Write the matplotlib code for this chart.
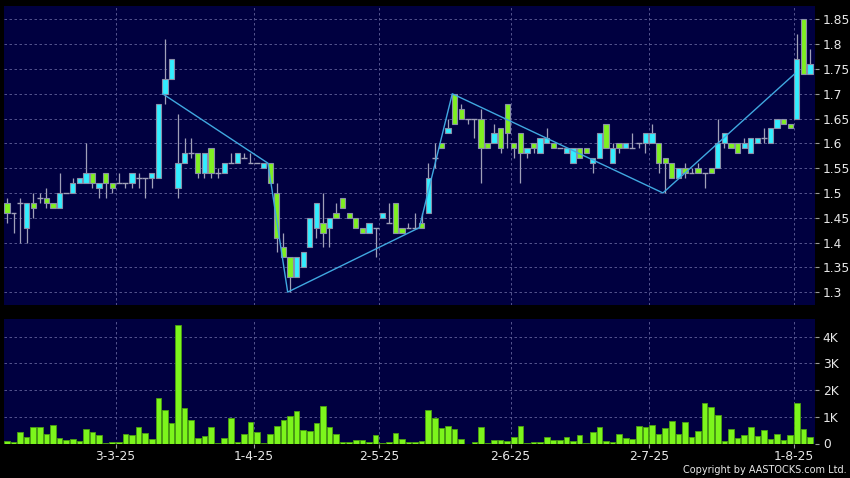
import matplotlib
matplotlib.use("Agg")
import matplotlib.pyplot as plt
import numpy as np

# OHLC, one candle per trading day (06-02-25 .. 05-08-25)
opens = [1.48, 1.46, 1.48, 1.43, 1.48, 1.49, 1.49, 1.48, 1.47, 1.50,
         1.50, 1.52, 1.52, 1.54, 1.51, 1.54, 1.52, 1.52, 1.52, 1.52,
         1.53, 1.53, 1.53, 1.53, 1.70, 1.73, 1.51, 1.56, 1.58, 1.58,
         1.54, 1.59, 1.54, 1.54, 1.56, 1.56, 1.57, 1.56, 1.56, 1.55,
         1.56, 1.50, 1.39, 1.37, 1.33, 1.35, 1.39, 1.43, 1.44, 1.43,
         1.46, 1.49, 1.46, 1.45, 1.43, 1.42, 1.43, 1.45, 1.44, 1.48,
         1.43, 1.43, 1.43, 1.44, 1.46, 1.57, 1.60, 1.62, 1.70, 1.67,
         1.65, 1.65, 1.65, 1.60, 1.60, 1.63, 1.68, 1.60, 1.62, 1.58,
         1.60, 1.58, 1.60, 1.60, 1.59, 1.58, 1.56, 1.59, 1.59, 1.56,
         1.57, 1.64, 1.56, 1.60, 1.59, 1.59, 1.60, 1.60, 1.60, 1.60,
         1.57, 1.56, 1.53, 1.55, 1.54, 1.55, 1.54, 1.55, 1.55, 1.60,
         1.60, 1.60, 1.59, 1.58, 1.60, 1.61, 1.60, 1.63, 1.65, 1.64,
         1.65, 1.85, 1.74]
closes = [1.46, 1.46, 1.48, 1.48, 1.47, 1.49, 1.48, 1.47, 1.50, 1.50,
          1.52, 1.53, 1.54, 1.52, 1.52, 1.52, 1.51, 1.52, 1.52, 1.54,
          1.53, 1.53, 1.54, 1.68, 1.73, 1.77, 1.56, 1.58, 1.58, 1.54,
          1.58, 1.54, 1.54, 1.56, 1.56, 1.58, 1.57, 1.56, 1.56, 1.56,
          1.52, 1.41, 1.37, 1.33, 1.37, 1.38, 1.45, 1.48, 1.42, 1.45,
          1.45, 1.47, 1.45, 1.43, 1.42, 1.44, 1.43, 1.46, 1.44, 1.42,
          1.42, 1.43, 1.43, 1.43, 1.53, 1.57, 1.59, 1.63, 1.64, 1.65,
          1.65, 1.65, 1.59, 1.59, 1.62, 1.59, 1.62, 1.59, 1.58, 1.59,
          1.59, 1.61, 1.61, 1.59, 1.59, 1.59, 1.59, 1.57, 1.58, 1.57,
          1.62, 1.59, 1.59, 1.59, 1.60, 1.59, 1.60, 1.62, 1.62, 1.56,
          1.56, 1.53, 1.55, 1.54, 1.54, 1.54, 1.54, 1.54, 1.60, 1.62,
          1.59, 1.58, 1.60, 1.61, 1.61, 1.61, 1.63, 1.65, 1.64, 1.63,
          1.77, 1.74, 1.76]
highs = [1.49, 1.46, 1.49, 1.48, 1.50, 1.50, 1.51, 1.48, 1.54, 1.50,
         1.53, 1.53, 1.60, 1.54, 1.52, 1.54, 1.52, 1.54, 1.52, 1.54,
         1.54, 1.53, 1.54, 1.68, 1.81, 1.77, 1.66, 1.61, 1.61, 1.58,
         1.58, 1.59, 1.55, 1.56, 1.58, 1.58, 1.58, 1.58, 1.56, 1.56,
         1.56, 1.52, 1.42, 1.37, 1.37, 1.38, 1.45, 1.48, 1.50, 1.45,
         1.48, 1.49, 1.46, 1.45, 1.43, 1.44, 1.43, 1.46, 1.48, 1.48,
         1.43, 1.44, 1.46, 1.46, 1.56, 1.60, 1.60, 1.65, 1.70, 1.68,
         1.65, 1.65, 1.67, 1.60, 1.64, 1.63, 1.68, 1.60, 1.62, 1.59,
         1.60, 1.61, 1.63, 1.60, 1.59, 1.59, 1.59, 1.59, 1.59, 1.57,
         1.62, 1.64, 1.60, 1.60, 1.60, 1.62, 1.60, 1.62, 1.64, 1.60,
         1.57, 1.56, 1.55, 1.56, 1.55, 1.56, 1.54, 1.55, 1.65, 1.62,
         1.60, 1.60, 1.61, 1.61, 1.61, 1.63, 1.63, 1.65, 1.65, 1.64,
         1.82, 1.85, 1.79]
lows = [1.44, 1.42, 1.40, 1.40, 1.45, 1.48, 1.47, 1.47, 1.47, 1.50,
        1.50, 1.52, 1.52, 1.51, 1.49, 1.49, 1.50, 1.52, 1.51, 1.51,
        1.51, 1.49, 1.51, 1.53, 1.68, 1.73, 1.49, 1.56, 1.57, 1.53,
        1.53, 1.53, 1.53, 1.54, 1.56, 1.56, 1.57, 1.56, 1.56, 1.55,
        1.52, 1.38, 1.37, 1.30, 1.33, 1.35, 1.39, 1.41, 1.39, 1.39,
        1.45, 1.47, 1.45, 1.43, 1.42, 1.42, 1.37, 1.45, 1.44, 1.42,
        1.42, 1.43, 1.43, 1.43, 1.46, 1.55, 1.59, 1.62, 1.64, 1.65,
        1.64, 1.61, 1.52, 1.59, 1.60, 1.58, 1.59, 1.57, 1.52, 1.57,
        1.58, 1.58, 1.60, 1.59, 1.59, 1.58, 1.56, 1.57, 1.58, 1.54,
        1.57, 1.59, 1.56, 1.58, 1.59, 1.59, 1.59, 1.58, 1.60, 1.54,
        1.50, 1.53, 1.53, 1.53, 1.54, 1.54, 1.51, 1.54, 1.55, 1.59,
        1.59, 1.58, 1.59, 1.58, 1.60, 1.60, 1.60, 1.63, 1.64, 1.63,
        1.65, 1.74, 1.74]
# volume in thousands of shares
volume = [0.075, 0.04, 0.42, 0.25, 0.60, 0.62, 0.37, 0.71, 0.20, 0.12,
          0.16, 0.11, 0.54, 0.42, 0.32, 0.01, 0.04, 0.06, 0.37, 0.31,
          0.62, 0.41, 0.15, 1.70, 1.25, 0.76, 4.44, 1.33, 0.87, 0.22,
          0.27, 0.61, 0.02, 0.22, 0.97, 0.04, 0.34, 0.80, 0.44, 0.01,
          0.36, 0.67, 0.87, 1.02, 1.20, 0.50, 0.47, 0.75, 1.42, 0.62,
          0.36, 0.05, 0.04, 0.14, 0.12, 0.06, 0.30, 0.01, 0.06, 0.41,
          0.15, 0.05, 0.07, 0.11, 1.25, 0.97, 0.57, 0.67, 0.56, 0.15,
          0.00, 0.06, 0.62, 0.01, 0.12, 0.12, 0.09, 0.24, 0.65, 0.01,
          0.04, 0.05, 0.24, 0.12, 0.13, 0.25, 0.10, 0.31, 0.02, 0.42,
          0.60, 0.11, 0.04, 0.37, 0.21, 0.17, 0.65, 0.60, 0.71, 0.34,
          0.57, 0.86, 0.37, 0.80, 0.24, 0.47, 1.52, 1.36, 1.06, 0.11,
          0.55, 0.19, 0.32, 0.60, 0.29, 0.52, 0.16, 0.34, 0.12, 0.31,
          1.50, 0.55, 0.24]

# zigzag turning points (candle index, price)
zz_idx = [24, 40, 43, 63, 68, 100, 120]
zz_price = [1.70, 1.56, 1.30, 1.43, 1.70, 1.50, 1.74]

date_labels = ["3-3-25", "1-4-25", "2-5-25", "2-6-25", "2-7-25", "1-8-25"]
date_idx = [17, 38, 57, 77, 98, 120]

price_ticks = [1.3, 1.35, 1.4, 1.45, 1.5, 1.55, 1.6, 1.65, 1.7, 1.75, 1.8, 1.85]
vol_ticks = [0, 1, 2, 3, 4]
vol_labels = ["0", "1K", "2K", "3K", "4K"]

BG = "#000040"
UP = "#33eeff"
DOWN = "#7ff021"
EDGE = "#8a8fa8"
WICK = "#a0a0b8"
GRID = "#62629a"
TXT = "#e8e8e8"

o = np.array(opens); c = np.array(closes)
h = np.array(highs); l = np.array(lows)
x = np.arange(len(o))

fig = plt.figure(figsize=(8.5, 4.78), dpi=100, facecolor="black")
W, H = 850, 478
ax = fig.add_axes([3.5 / W, (H - 305) / H, 811 / W, 299 / H], facecolor=BG)
axv = fig.add_axes([3.5 / W, (H - 443.5) / H, 811 / W, 124.5 / H], facecolor=BG)

grid_x = np.array(date_idx) - 0.5

for a in (ax, axv):
    for s in a.spines.values():
        s.set_visible(False)
    a.set_xlim(-0.52, len(o) - 0.32)
    a.yaxis.tick_right()
    a.tick_params(axis="y", colors="#9a9a9a", labelcolor=TXT, labelsize=8.8,
                  length=3, width=0.8, pad=3)
    a.set_axisbelow(True)
    for gx in grid_x:
        a.axvline(gx, color=GRID, lw=0.6, ls=(0, (3, 3)), zorder=0)

# price panel
ax.set_ylim(1.274, 1.877)
ax.set_yticks(price_ticks)
ax.set_yticklabels([("%g" % t) for t in price_ticks])
for t in price_ticks:
    ax.axhline(t, color=GRID, lw=0.6, ls=(0, (3, 3)), zorder=0)
ax.set_xticks([])

ax.vlines(x, l, h, color=WICK, lw=0.9, zorder=2)
up = c > o
dn = c < o
flat = c == o
ax.bar(x[up], (c - o)[up], bottom=o[up], width=0.8, color=UP,
       edgecolor=EDGE, linewidth=0.8, zorder=3)
ax.bar(x[dn], (o - c)[dn], bottom=c[dn], width=0.8, color=DOWN,
       edgecolor=EDGE, linewidth=0.8, zorder=3)
ax.hlines(c[flat], x[flat] - 0.45, x[flat] + 0.45, color=WICK, lw=1.0, zorder=3)

ax.plot(np.array(zz_idx) - 0.35, zz_price, color="#40a8e0", lw=1.0, zorder=4)

# volume panel
axv.set_ylim(0, 4.66)
axv.set_yticks(vol_ticks)
axv.set_yticklabels(vol_labels)
for t in vol_ticks[1:]:
    axv.axhline(t, color=GRID, lw=0.6, ls=(0, (3, 3)), zorder=0)
axv.bar(x, volume, width=0.85, color="#7cf51c", edgecolor="#4aa010",
        linewidth=0.6, zorder=3)
axv.set_xticks(grid_x)
axv.set_xticklabels(date_labels)
axv.tick_params(axis="x", colors="#9a9a9a", labelcolor=TXT, labelsize=8.8,
                length=3, width=0.8, pad=2)

fig.text(847 / W, 1 - 470 / H, "Copyright by AASTOCKS.com Ltd.", color=TXT,
         fontsize=7.0, ha="right", va="center")

fig.savefig("out.png", dpi=100, facecolor="black")
